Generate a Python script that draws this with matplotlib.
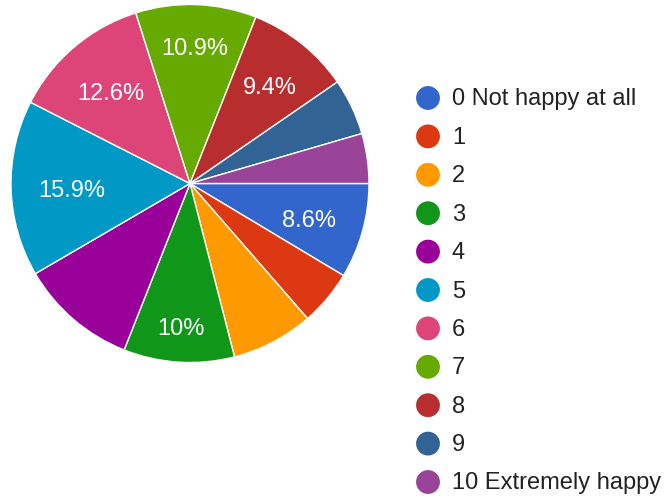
import numpy as np
import matplotlib
matplotlib.use("Agg")
import matplotlib.pyplot as plt

plt.rcParams['font.family'] = ['Liberation Sans', 'DejaVu Sans']

# answers 0..10, share of responses (%)
categories = ["0 Not happy at all", "1", "2", "3", "4", "5", "6", "7", "8", "9",
              "10 Extremely happy"]
shares = [8.6, 5.0, 7.4, 10.0, 10.6, 15.9, 12.6, 10.9, 9.4, 5.1, 4.5]
slice_labels = ["8.6%", "", "", "10%", "", "15.9%", "12.6%", "10.9%", "9.4%", "", ""]
colors = ["#3366cc", "#dc3912", "#ff9900", "#109618", "#990099", "#0099c6",
          "#dd4477", "#66aa00", "#b82e2e", "#316395", "#994499"]

W, H = 665, 497
R = 179          # pie radius in px
cx, cy = 190, 183.5

fig = plt.figure(figsize=(W / 100, H / 100), dpi=100)
ax = fig.add_axes([(cx - R) / W, (H - cy - R) / H, 2 * R / W, 2 * R / H])

wedges, _ = ax.pie(shares, colors=colors, startangle=0, counterclock=False,
                   radius=1, wedgeprops=dict(edgecolor="white", linewidth=1))
ax.set_xlim(-1, 1)
ax.set_ylim(-1, 1)
ax.set_aspect("equal")
ax.axis("off")

# place labels so that the outer corner of the text box sits at 0.85 R
renderer = fig.canvas.get_renderer()
for w, lab in zip(wedges, slice_labels):
    if not lab:
        continue
    th = np.deg2rad((w.theta1 + w.theta2) / 2)
    t = ax.text(0, 0, lab, color="white", fontsize=17, ha="center", va="center")
    bb = t.get_window_extent(renderer)
    hw = bb.width / 2 / R
    hh = (bb.height / 2 - 3) / R
    dx, dy = np.cos(th), np.sin(th)
    ox, oy = np.sign(dx) * hw, np.sign(dy) * hh
    # |t*d + o| = 0.85
    b = 2 * (dx * ox + dy * oy)
    c = ox ** 2 + oy ** 2 - 0.85 ** 2
    s = (-b + np.sqrt(b * b - 4 * c)) / 2
    t.set_position((s * dx, s * dy - 0.025))

# legend
lax = fig.add_axes([0, 0, 1, 1])
lax.set_xlim(0, W)
lax.set_ylim(H, 0)
lax.axis("off")
for i, (name, col) in enumerate(zip(categories, colors)):
    y = 98 + i * 38.4
    lax.scatter([428], [y], s=295, color=col, edgecolors="none")
    lax.text(452, y + 1.5, name, fontsize=17, color="#222222", ha="left", va="center")

fig.savefig("out.png", dpi=100)
